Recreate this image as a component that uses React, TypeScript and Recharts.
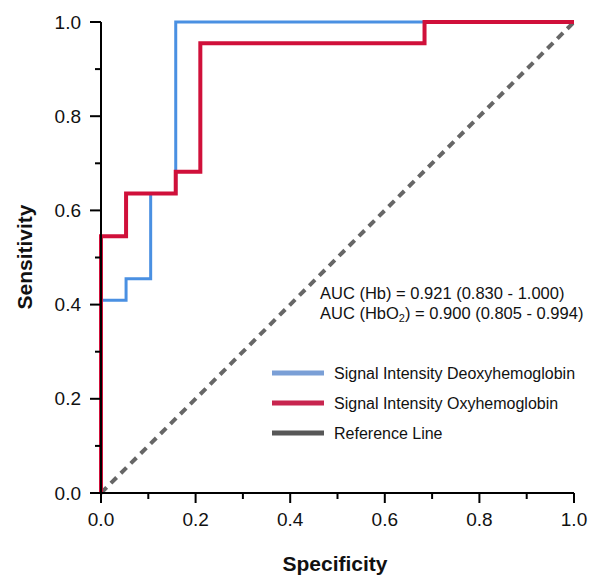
import React from 'react';
import { LineChart, Line, XAxis, YAxis } from 'recharts';

// Hb (deoxyhemoglobin) ROC step curve
const hbX = [0, 0, 0.053, 0.053, 0.105, 0.105, 0.158, 0.158, 1];
const hbY = [0, 0.409, 0.409, 0.455, 0.455, 0.636, 0.636, 1, 1];
// HbO2 (oxyhemoglobin) ROC step curve
const hbo2X = [0, 0, 0.053, 0.053, 0.158, 0.158, 0.21, 0.21, 0.684, 0.684, 1];
const hbo2Y = [0, 0.545, 0.545, 0.636, 0.636, 0.682, 0.682, 0.955, 0.955, 1, 1];
// Reference diagonal
const refX = [0, 1];
const refY = [0, 1];

const tickValues = [0, 0.1, 0.2, 0.3, 0.4, 0.5, 0.6, 0.7, 0.8, 0.9, 1];
const majorTicks = [0, 0.2, 0.4, 0.6, 0.8, 1];

const seriesNames = [
  'Signal Intensity Deoxyhemoglobin',
  'Signal Intensity Oxyhemoglobin',
  'Reference Line',
];
const legendColors = ['#7a9fd6', '#c8254f', '#575757'];
const lineColors = ['#4a90e2', '#d0103a', '#666666'];

const xTitle = 'Specificity';
const yTitle = 'Sensitivity';

const toPoints = (xs: number[], ys: number[]) => xs.map((x, i) => ({ x, y: ys[i] }));
const hbData = toPoints(hbX, hbY);
const hbo2Data = toPoints(hbo2X, hbo2Y);
const refData = toPoints(refX, refY);

const FONT = '"Liberation Sans", Arial, sans-serif';

const isMajor = (v: number) => majorTicks.some((m) => Math.abs(m - v) < 1e-6);

const XTick = (props: any) => {
  const { x, y, payload } = props;
  const v = payload.value as number;
  const major = isMajor(v);
  return (
    <g>
      <line x1={x} x2={x} y1={y} y2={y + (major ? 10 : 6)} stroke="#000" strokeWidth={2} />
      {major && (
        <text x={x} y={y + 26} textAnchor="middle" dominantBaseline="central" fontSize={19} fontFamily={FONT} fill="#111">
          {v.toFixed(1)}
        </text>
      )}
    </g>
  );
};

const YTick = (props: any) => {
  const { x, y, payload } = props;
  const v = payload.value as number;
  const major = isMajor(v);
  return (
    <g>
      <line x1={x - (major ? 11 : 6)} x2={x} y1={y} y2={y} stroke="#000" strokeWidth={2} />
      {major && (
        <text x={x - 20} y={y} textAnchor="end" dominantBaseline="central" fontSize={19} fontFamily={FONT} fill="#111">
          {v.toFixed(1)}
        </text>
      )}
    </g>
  );
};

export default function App() {
  return (
    <div style={{ position: 'absolute', left: 0, top: 0, width: 590, height: 575, background: '#fff', overflow: 'hidden' }}>
      <LineChart width={590} height={575} margin={{ top: 22, right: 16, bottom: 0, left: 0 }}>
        <XAxis
          dataKey="x"
          type="number"
          domain={[0, 1]}
          ticks={tickValues}
          interval={0}
          tickSize={0}
          tickMargin={0}
          tickLine={false}
          tick={<XTick />}
          axisLine={{ stroke: '#000', strokeWidth: 2 }}
          height={82}
          allowDuplicatedCategory={false}
        />
        <YAxis
          dataKey="y"
          type="number"
          domain={[0, 1]}
          ticks={tickValues}
          interval={0}
          tickSize={0}
          tickMargin={0}
          tickLine={false}
          tick={<YTick />}
          axisLine={{ stroke: '#000', strokeWidth: 2 }}
          width={101}
        />
        <Line
          data={refData}
          dataKey="y"
          type="linear"
          stroke={lineColors[2]}
          strokeWidth={4}
          strokeDasharray="8 6"
          dot={false}
          activeDot={false}
          isAnimationActive={false}
          name={seriesNames[2]}
        />
        <Line
          data={hbData}
          dataKey="y"
          type="linear"
          stroke={lineColors[0]}
          strokeWidth={3}
          strokeLinejoin="miter"
          dot={false}
          activeDot={false}
          isAnimationActive={false}
          name={seriesNames[0]}
        />
        <Line
          data={hbo2Data}
          dataKey="y"
          type="linear"
          stroke={lineColors[1]}
          strokeWidth={4}
          strokeLinejoin="miter"
          dot={false}
          activeDot={false}
          isAnimationActive={false}
          name={seriesNames[1]}
        />
      </LineChart>
      <svg width={590} height={575} style={{ position: 'absolute', left: 0, top: 0, pointerEvents: 'none' }}>
        <text x={335} y={571} textAnchor="middle" fontSize={21} fontWeight="bold" fontFamily={FONT} fill="#111">
          {xTitle}
        </text>
        <text
          x={32}
          y={257}
          transform="rotate(-90 32 257)"
          textAnchor="middle"
          fontSize={21}
          fontWeight="bold"
          fontFamily={FONT}
          fill="#111"
        >
          {yTitle}
        </text>
        <text x={320} y={293} dominantBaseline="central" fontSize={16.5} fontFamily={FONT} fill="#111">
          AUC (Hb) = 0.921 (0.830 - 1.000)
        </text>
        <text x={320} y={313} dominantBaseline="central" fontSize={16.5} fontFamily={FONT} fill="#111">
          AUC (HbO<tspan fontSize={11} dy={5}>2</tspan>
          <tspan dy={-5}>) = 0.900 (0.805 - 0.994)</tspan>
        </text>
        {seriesNames.map((name, i) => (
          <g key={name}>
            <rect x={272} y={373 + i * 30 - 2.5} width={52} height={5} fill={legendColors[i]} />
            <text x={334} y={373 + i * 30} dominantBaseline="central" fontSize={16} fontFamily={FONT} fill="#111">
              {name}
            </text>
          </g>
        ))}
      </svg>
    </div>
  );
}
